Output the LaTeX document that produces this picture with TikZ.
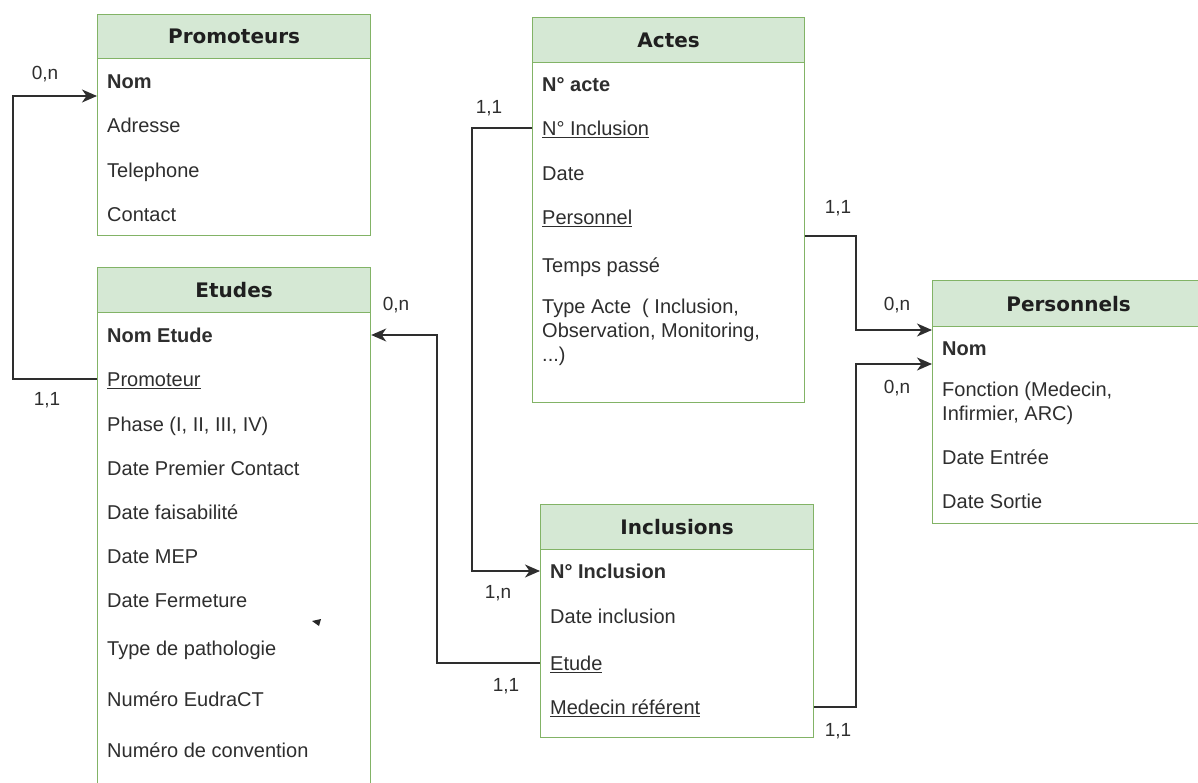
\documentclass[tikz,border=0pt]{standalone}
\usepackage{fontspec}
\setmainfont{Liberation Sans}
\newfontfamily\hdrfont{DejaVu Sans}
\usetikzlibrary{arrows.meta}
\definecolor{hdrfill}{HTML}{D5E8D4}
\definecolor{hdrline}{HTML}{82B366}
\definecolor{txt}{HTML}{2E2E2E}
\definecolor{conn}{HTML}{2E2E2E}
\begin{document}
\begin{tikzpicture}[x=1pt,y=-1pt,
  body/.style={draw=hdrline, line width=1.2pt, fill=white, anchor=north west, inner sep=0pt},
  hdr/.style={draw=hdrline, line width=1.2pt, fill=hdrfill, anchor=north west, inner sep=0pt,
    font=\hdrfont\bfseries\fontsize{20}{24}\selectfont, text=black!88},
  row/.style={anchor=west, inner sep=0pt, text height=19pt, text depth=4.6pt,
    font=\fontsize{20}{24}\selectfont, text=txt},
  mrow/.style={anchor=north west, inner sep=0pt, align=left,
    font=\fontsize{20}{24}\selectfont, text=txt},
  lbl/.style={inner sep=0pt, font=\fontsize{19}{22}\selectfont, text=txt},
  link/.style={draw=conn, line width=1.5pt},
  arr/.style={link, -{Stealth[length=15pt,width=13pt,inset=4.5pt]}}
]
\clip (0,0) rectangle (1198,783);
\useasboundingbox (0,0) rectangle (1198,783);

% ---------- Promoteurs ----------
\node[body, minimum width=273pt, minimum height=221pt] (promoteurs) at (97,14) {};
\node[hdr, minimum width=273pt, minimum height=44pt] (promoteursH) at (97,14) {Promoteurs};
\node[row] (prNom) at (107,81) {\textbf{Nom}};
\node[row] (prAdr) at (107,125) {Adresse};
\node[row] (prTel) at (107,170) {Telephone};
\node[row] (prCon) at (107,214) {Contact};

% ---------- Actes ----------
\node[body, minimum width=272pt, minimum height=385pt] (actes) at (532,17) {};
\node[hdr, minimum width=272pt, minimum height=45pt] (actesH) at (532,17) {Actes};
\node[row] (acNum) at (542,84) {\textbf{N° acte}};
\node[row] (acInc) at (542,128) {\underline{N° Inclusion}};
\node[row] (acDate) at (542,173) {Date};
\node[row] (acPers) at (542,217) {\underline{Personnel}};
\node[row] (acTemps) at (542,265) {Temps passé};
\node[mrow] (acType) at (542,299) {Type Acte~ ( Inclusion,\\Observation, Monitoring,\\...)};

% ---------- Etudes ----------
\node[body, minimum width=273pt, minimum height=540pt] (etudes) at (97,267) {};
\node[hdr, minimum width=273pt, minimum height=45pt] (etudesH) at (97,267) {Etudes};
\node[row] (etNom) at (107,335) {\textbf{Nom Etude}};
\node[row] (etPromo) at (107,379) {\underline{Promoteur}};
\node[row] (etPhase) at (107,424) {Phase (I, II, III, IV)};
\node[row] (etDPC) at (107,468) {Date Premier Contact};
\node[row] (etFais) at (107,512) {Date faisabilité};
\node[row] (etMEP) at (107,556) {Date MEP};
\node[row] (etFerm) at (107,600) {Date Fermeture};
\node[row] (etPath) at (107,648) {Type de pathologie};
\node[row] (etEudra) at (107,699) {Numéro EudraCT};
\node[row] (etConv) at (107,750) {Numéro de convention};
\fill[black!85] (312,621) -- (321,619) -- (319,626) -- cycle;

% ---------- Inclusions ----------
\node[body, minimum width=273pt, minimum height=233pt] (inclusions) at (540,504) {};
\node[hdr, minimum width=273pt, minimum height=45pt] (inclusionsH) at (540,504) {Inclusions};
\node[row] (inNum) at (550,571) {\textbf{N° Inclusion}};
\node[row] (inDate) at (550,616) {Date inclusion};
\node[row] (inEtude) at (550,663) {\underline{Etude}};
\node[row] (inMed) at (550,707) {\underline{Medecin référent}};

% ---------- Personnels ----------
\node[body, minimum width=272pt, minimum height=243pt] (personnels) at (932,280) {};
\node[hdr, minimum width=272pt, minimum height=46pt] (personnelsH) at (932,280) {Personnels};
\node[row] (peNom) at (942,348) {\textbf{Nom}};
\node[mrow] (peFonc) at (942,382) {Fonction (Medecin,\\Infirmier, ARC)};
\node[row] (peEntree) at (942,457) {Date Entrée};
\node[row] (peSortie) at (942,501) {Date Sortie};

% ---------- ports ----------
\path (promoteurs.west |- prNom) ++(0,15) coordinate (prIn);
\path (actes.east |- acPers) ++(0,19) coordinate (acOut);
\path (personnels.west |- peNom) ++(0,-18) coordinate (peIn1);
\path (personnels.west |- peNom) ++(0,16) coordinate (peIn2);

% ---------- connectors ----------
\draw[arr] (etudes.west |- etPromo) -- ++(-84,0) |- (prIn);
\draw[arr] (actes.west |- acInc) -- ++(-60,0) |- (inclusions.west |- inNum);
\draw[arr] (inclusions.west |- inEtude) -- ++(-103,0) |- (etudes.east |- etNom);
\draw[arr] (acOut) -- ++(51,0) |- (peIn1);
\draw[arr] (inclusions.east |- inMed) -- ++(42,0) |- (peIn2);

% ---------- cardinalities ----------
\node[lbl] (l1) at (45,74) {0,n};
\node[lbl] (l2) at (47,400) {1,1};
\node[lbl] (l3) at (396,305) {0,n};
\node[lbl] (l4) at (489,108) {1,1};
\node[lbl] (l5) at (498,593) {1,n};
\node[lbl] (l6) at (506,686) {1,1};
\node[lbl] (l7) at (838,208) {1,1};
\node[lbl] (l8) at (897,305) {0,n};
\node[lbl] (l9) at (897,388) {0,n};
\node[lbl] (l10) at (838,731) {1,1};
\end{tikzpicture}
\end{document}
